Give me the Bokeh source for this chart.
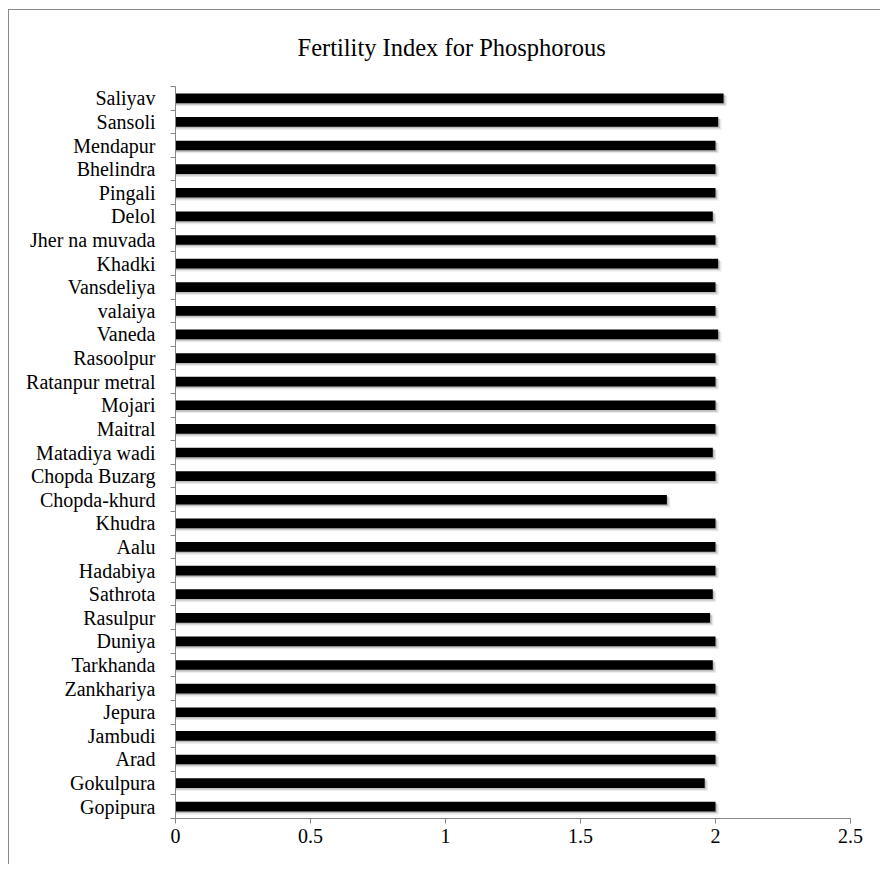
from bokeh.plotting import figure
from bokeh.models import FixedTicker, Range1d, ColumnDataSource
from bokeh.embed import file_html
from bokeh.resources import INLINE

# Categories listed top to bottom as in the chart
villages = ["Saliyav", "Sansoli", "Mendapur", "Bhelindra", "Pingali", "Delol",
            "Jher na muvada", "Khadki", "Vansdeliya", "valaiya", "Vaneda",
            "Rasoolpur", "Ratanpur metral", "Mojari", "Maitral", "Matadiya wadi",
            "Chopda Buzarg", "Chopda-khurd", "Khudra", "Aalu", "Hadabiya",
            "Sathrota", "Rasulpur", "Duniya", "Tarkhanda", "Zankhariya",
            "Jepura", "Jambudi", "Arad", "Gokulpura", "Gopipura"]
index_values = [2.03, 2.01, 2.00, 2.00, 2.00, 1.99,
                2.00, 2.01, 2.00, 2.00, 2.01,
                2.00, 2.00, 2.00, 2.00, 1.99,
                2.00, 1.82, 2.00, 2.00, 2.00,
                1.99, 1.98, 2.00, 1.99, 2.00,
                2.00, 2.00, 2.00, 1.96, 2.00]
x_ticks = [0, 0.5, 1, 1.5, 2, 2.5]
x_tick_labels = ["0", "0.5", "1", "1.5", "2", "2.5"]

n = len(villages)
ypos = [n - i - 0.5 for i in range(n)]
src = ColumnDataSource(dict(y=ypos, v=index_values,
                            ys1=[y - 0.06 for y in ypos],
                            ys2=[y - 0.11 for y in ypos],
                            vs1=[v + 0.006 for v in index_values],
                            vs2=[v + 0.012 for v in index_values]))

FONT = "Liberation Serif"
W, H = 880, 864
p = figure(width=W, height=H, output_backend="svg", toolbar_location=None,
           x_range=Range1d(0, 2.5), y_range=Range1d(0, n),
           title="Fertility Index for Phosphorous")
p.min_border_left = 175
p.min_border_right = 30
p.min_border_top = 86
p.min_border_bottom = 46

# chart border (left and top edges visible, drawn behind a transparent canvas)
p.border_fill_color = None
p.background_fill_color = "white"
p.styles = {
    "background-color": "white",
    "background-image": "linear-gradient(#8a8a8a, #8a8a8a), linear-gradient(#8a8a8a, #8a8a8a)",
    "background-size": "1px 100%, 100% 1px",
    "background-position": "8px 9px, 8px 9px",
    "background-repeat": "no-repeat",
}

p.title.text_font = FONT
p.title.text_font_size = "24.5px"
p.title.text_font_style = "normal"
p.title.align = "left"
p.title.offset = 122
p.title.text_color = "#000000"
p.title.standoff = 52

p.outline_line_color = None
p.grid.visible = False

# shadows
p.hbar(y="ys2", right="vs2", left=0, height=0.44, source=src,
       fill_color="#000000", fill_alpha=0.09, line_color=None)
p.hbar(y="ys1", right="vs1", left=0, height=0.42, source=src,
       fill_color="#000000", fill_alpha=0.18, line_color=None)
p.hbar(y="y", right="v", left=0, height=0.41, source=src,
       fill_color="#000000", line_color=None)

xa = p.xaxis[0]
xa.ticker = FixedTicker(ticks=x_ticks)
xa.major_label_overrides = {t: l for t, l in zip(x_ticks, x_tick_labels)}
xa.major_label_text_font = FONT
xa.major_label_text_font_size = "20px"
xa.major_label_text_color = "#000000"
xa.axis_line_color = "#868686"
xa.major_tick_line_color = "#868686"
xa.major_tick_out = 5
xa.major_tick_in = 0
xa.minor_tick_line_color = None
xa.major_label_standoff = 5

ya = p.yaxis[0]
ya.ticker = FixedTicker(ticks=ypos, minor_ticks=list(range(0, n + 1)))
ya.major_label_overrides = {y: v for y, v in zip(ypos, villages)}
ya.major_label_text_font = FONT
ya.major_label_text_font_size = "20px"
ya.major_label_text_color = "#000000"
ya.axis_line_color = "#868686"
ya.major_tick_line_color = None
ya.minor_tick_line_color = "#868686"
ya.minor_tick_out = 5
ya.minor_tick_in = 0
ya.major_label_standoff = 14

open("out.html", "w").write(file_html(p, INLINE))
